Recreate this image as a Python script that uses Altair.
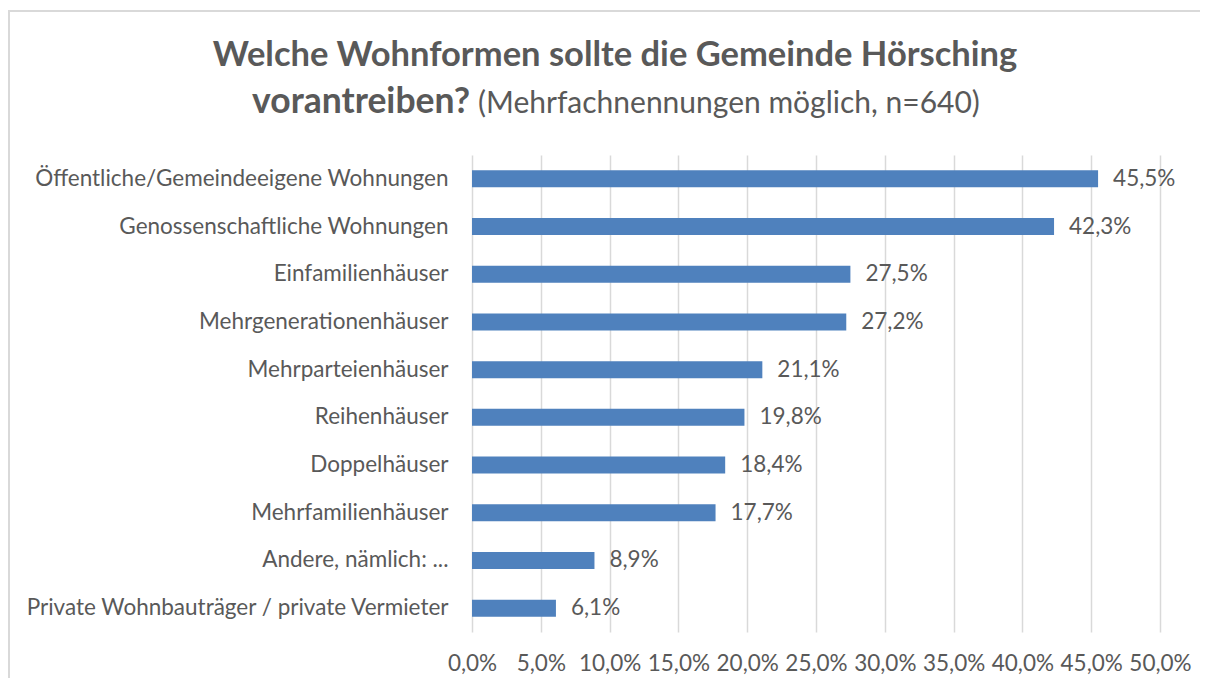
import altair as alt
import pandas as pd

categories = [
    "Öffentliche/Gemeindeeigene Wohnungen",
    "Genossenschaftliche Wohnungen",
    "Einfamilienhäuser",
    "Mehrgenerationenhäuser",
    "Mehrparteienhäuser",
    "Reihenhäuser",
    "Doppelhäuser",
    "Mehrfamilienhäuser",
    "Andere, nämlich: ...",
    "Private Wohnbauträger / private Vermieter",
]
values = [45.5, 42.3, 27.5, 27.2, 21.1, 19.8, 18.4, 17.7, 8.9, 6.1]
x_ticks = [0, 5, 10, 15, 20, 25, 30, 35, 40, 45, 50]

title_line1 = "Welche Wohnformen sollte die Gemeinde Hörsching"
title_line2_bold = "vorantreiben?"
title_line2_normal = "(Mehrfachnennungen möglich, n=640)"

FONT = "Lato"
GREY = "#595959"
LABEL_SIZE = 22.5

df = pd.DataFrame({"cat": categories, "val": values})

base = alt.Chart(df).encode(
    y=alt.Y(
        "cat:N",
        sort=categories,
        title=None,
        scale=alt.Scale(paddingInner=0.64, paddingOuter=0.32),
        axis=alt.Axis(
            domain=False,
            ticks=False,
            tickSize=0,
            labelPadding=24,
            labelFontSize=LABEL_SIZE,
            labelFont=FONT,
            labelColor=GREY,
            labelLimit=600,
        ),
    ),
    x=alt.X(
        "val:Q",
        title=None,
        scale=alt.Scale(domain=[0, 50], nice=False),
        axis=alt.Axis(
            values=x_ticks,
            domain=False,
            ticks=False,
            tickSize=0,
            grid=True,
            gridColor="#D9D9D9",
            gridWidth=1.5,
            labelPadding=20,
            labelOverlap=False,
            labelFlush=False,
            labelFontSize=LABEL_SIZE,
            labelFont=FONT,
            labelColor=GREY,
            labelExpr="replace(format(datum.value, '.1f'), '.', ',') + '%'",
        ),
    ),
)

bars = base.mark_bar(color="#4F81BD", size=17)

labels = base.transform_calculate(
    lab="replace(format(datum.val, '.1f'), '.', ',') + '%'"
).mark_text(
    align="left", baseline="middle", dx=15, fontSize=LABEL_SIZE, font=FONT, color=GREY
).encode(text="lab:N")

tdf1 = pd.DataFrame({"t": [title_line1]})
tdf2 = pd.DataFrame({"t": [title_line2_bold]})
tdf3 = pd.DataFrame({"t": [title_line2_normal]})

t1 = alt.Chart(tdf1).mark_text(
    align="center", baseline="alphabetic", fontSize=34.5, fontWeight="bold",
    font=FONT, color=GREY
).encode(text="t:N", x=alt.value(143), y=alt.value(-89))

t2 = alt.Chart(tdf2).mark_text(
    align="right", baseline="alphabetic", fontSize=35.5, fontWeight="bold",
    font=FONT, color=GREY
).encode(text="t:N", x=alt.value(-2), y=alt.value(-42))

t3 = alt.Chart(tdf3).mark_text(
    align="left", baseline="alphabetic", fontSize=30,
    font=FONT, color=GREY
).encode(text="t:N", x=alt.value(6), y=alt.value(-42))

border_left = alt.Chart(tdf1).mark_rule(color="#D9D9D9", strokeWidth=2).encode(
    x=alt.value(-463), y=alt.value(-145), y2=alt.value(700)
)
border_top = alt.Chart(tdf1).mark_rule(color="#D9D9D9", strokeWidth=2).encode(
    x=alt.value(-464), x2=alt.value(728), y=alt.value(-144)
)

chart = alt.layer(border_left, border_top, bars, labels, t1, t2, t3).properties(
    width=688,
    height=477,
    padding={"left": 464, "top": 147, "right": 40, "bottom": 46},
    autosize=alt.AutoSizeParams(type="none"),
).configure_view(stroke=None)

chart.save("out.html", embed_options={"renderer": "svg", "actions": False})
